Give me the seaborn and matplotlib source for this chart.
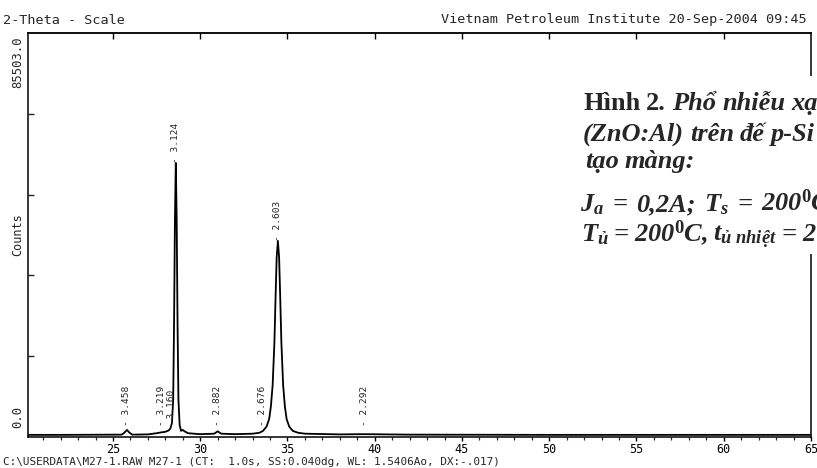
import matplotlib
matplotlib.use("Agg")
import matplotlib.pyplot as plt
import numpy as np
import pandas as pd
import seaborn as sns
from matplotlib.patches import Rectangle
from matplotlib.ticker import MultipleLocator

# ---------------- data ----------------
two_theta = [20.13, 22.0, 24.0, 25.5, 25.65, 25.8, 25.95, 26.1, 27.0, 27.5, 27.8,
             28.0, 28.2, 28.3, 28.38, 28.45, 28.5, 28.55, 28.6, 28.65, 28.7, 28.75,
             28.82, 28.9, 29.0, 29.1, 29.3, 30.0, 30.8, 31.0, 31.2, 32.0, 33.0,
             33.4, 33.6, 33.8, 33.95, 34.05, 34.15, 34.25, 34.32, 34.38, 34.45,
             34.52, 34.58, 34.65, 34.75, 34.85, 34.95, 35.1, 35.3, 35.6, 36.0,
             38.0, 39.4, 42.0, 50.0, 60.0, 65.0]
counts = [450, 450, 480, 500, 900, 1500, 900, 500, 550, 800, 1000,
          1100, 1400, 1900, 3000, 8000, 24000, 46000, 58000, 46000, 24000, 8000,
          2500, 1300, 1500, 1200, 800, 600, 700, 1200, 700, 600, 700,
          900, 1300, 2200, 3800, 6500, 11000, 20000, 30000, 38000, 41500,
          38000, 30000, 20000, 11000, 6500, 3800, 2200, 1300, 900, 700,
          550, 600, 500, 450, 450, 450]

peak_pos = [25.8, 27.8, 28.38, 28.6, 31.0, 33.54, 34.45, 39.44]
peak_d = ["3.458", "3.219", "3.160", "3.124", "2.882", "2.676", "2.603", "2.292"]
peak_label_y = [2300, 2300, 1500, 58000, 2300, 2300, 41500, 2300]

x_major = [25, 30, 35, 40, 45, 50, 55, 60, 65]
x_major_labels = ["25", "30", "35", "40", "45", "50", "55", "60", "65"]
y_max = 85503.0
y_ticks = [17100.6, 34201.2, 51301.8, 68402.4]

header_left = "2-Theta - Scale"
header_right = "Vietnam Petroleum Institute 20-Sep-2004 09:45"
footer = "C:\\USERDATA\\M27-1.RAW M27-1 (CT:  1.0s, SS:0.040dg, WL: 1.5406Ao, DX:-.017)"

caption_l1 = ["Hình", "2.", "Phổ", "nhiễu", "xạ"]
caption_l1_style = ["normal", "normal", "italic", "italic", "italic"]
caption_l2 = ["(ZnO:Al)", "trên", "đế", "p-Si"]
caption_l3 = ["tạo", "màng:"]
caption_l4 = [r"$J_a$", "=", "0,2A;", r"$T_s$", "=", r"200$^0$C"]
caption_l5 = [r"$T_ủ$", "=", r"200$^0$C,", r"$t_{ủ\ nhiệt}$", "=", "2"]

# ---------------- style ----------------
sns.set_style("white")
plt.rcParams["font.family"] = ["DejaVu Sans Mono"]
plt.rcParams["mathtext.fontset"] = "custom"
plt.rcParams["mathtext.it"] = "Liberation Serif:italic:bold"
plt.rcParams["mathtext.rm"] = "Liberation Serif:bold"
plt.rcParams["mathtext.bf"] = "Liberation Serif:bold"
plt.rcParams["mathtext.default"] = "it"

W, H = 817, 468
fig = plt.figure(figsize=(W / 100, H / 100), dpi=100)
ax = fig.add_axes([28 / W, 31 / H, 783 / W, 404 / H])

df = pd.DataFrame({"two_theta": two_theta, "counts": counts})
sns.lineplot(data=df, x="two_theta", y="counts", ax=ax, color="black",
             linewidth=1.3, sort=False, estimator=None)

ax.set_xlim(20.13, 65)
ax.set_ylim(0, y_max)
ax.set_xlabel("")
ax.set_ylabel("")

for s in ax.spines.values():
    s.set_color("black")
    s.set_linewidth(1.1)

ax.set_xticks(x_major)
ax.set_xticklabels(x_major_labels, fontsize=8.5, family="DejaVu Sans Mono")
ax.xaxis.set_minor_locator(MultipleLocator(1))
ax.tick_params(axis="x", which="major", direction="out", length=3, width=1,
               bottom=True, top=False, pad=1.5, colors="black")
ax.tick_params(axis="x", which="minor", direction="out", length=2.5, width=0.9,
               bottom=True, top=False)
ax.set_yticks(y_ticks)
ax.tick_params(axis="y", which="major", direction="in", length=4, width=1,
               left=True, right=False, labelleft=False)

sec = ax.secondary_xaxis("top")
sec.set_xticks(x_major[:-1])
sec.tick_params(direction="in", length=4, width=1, labeltop=False, colors="black")
sec.spines["top"].set_linewidth(1.1)

# y labels
ax.text(-10 / 783, 1 - 3 / 404, "85503.0", transform=ax.transAxes, rotation=90,
        ha="center", va="top", fontsize=8.8)
ax.text(-10 / 783, 9 / 404, "0.0", transform=ax.transAxes, rotation=90,
        ha="center", va="bottom", fontsize=8.8)
ax.text(-10 / 783, 0.5, "Counts", transform=ax.transAxes, rotation=90,
        ha="center", va="center", fontsize=8.6)

# peak labels
for xp, d, yl in zip(peak_pos, peak_d, peak_label_y):
    ax.text(xp, yl, "- " + d, rotation=90, ha="center", va="bottom",
            fontsize=6.8)

# header / footer
fig.text(3 / W, 1 - 21 / H, header_left, ha="left", va="center", fontsize=9.7)
fig.text(807 / W, 1 - 20 / H, header_right, ha="right", va="center", fontsize=9.7)
fig.text(3 / W, 1 - 462 / H, footer, ha="left", va="center", fontsize=7.9)

# caption block (pasted over the chart, cut by the right edge)
fig.patches.append(Rectangle((572 / W, 1 - 254 / H), 260 / W, 178 / H,
                             transform=fig.transFigure, facecolor="white",
                             edgecolor="none", zorder=5))
cap_kw = dict(fontsize=19, family="Liberation Serif", weight="bold",
              va="baseline", ha="left", zorder=6)
renderer = fig.canvas.get_renderer()


def place_words(words, styles, x0, y, xlast=None, gap=None):
    texts = [fig.text(0, 1 - y / H, w, style=s, **cap_kw)
             for w, s in zip(words, styles)]
    widths = [t.get_window_extent(renderer).width for t in texts]
    if gap is None:
        gap = (xlast - x0 - sum(widths[:-1])) / (len(words) - 1)
    x = x0
    for t, w in zip(texts, widths):
        t.set_x(x / W)
        x += w + gap


place_words(caption_l1, caption_l1_style, 583, 110, gap=6)
place_words(caption_l2, ["italic"] * 4, 583, 141, gap=6)
place_words(caption_l3, ["italic"] * 2, 585, 168, gap=6)
place_words(caption_l4, ["italic"] * 6, 580, 211, xlast=761)
place_words(caption_l5, ["italic"] * 6, 581, 241, xlast=802)

fig.savefig("out.png", dpi=100)
